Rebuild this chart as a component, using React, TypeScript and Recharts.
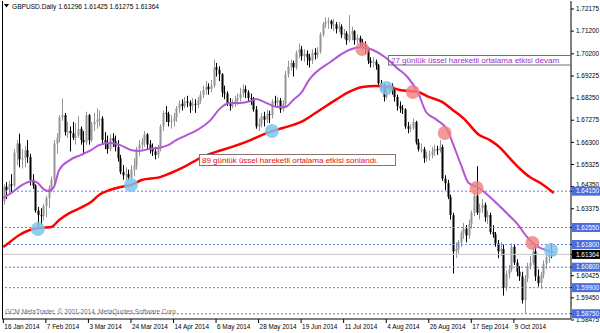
import React from 'react';
import { ComposedChart, Bar, Line, XAxis, YAxis, ReferenceLine, ReferenceDot } from 'recharts';

const opens = [
  1.6370,1.6435,1.6420,1.6445,1.6440,1.6585,1.6625,1.6555,1.6560,1.6595,
  1.6565,1.6465,1.6440,1.6330,1.6310,1.6305,1.6350,1.6385,1.6430,1.6465,
  1.6625,1.6650,1.6740,1.6750,1.6675,1.6680,1.6670,1.6650,1.6660,1.6690,
  1.6640,1.6630,1.6750,1.6640,1.6710,1.6720,1.6730,1.6735,1.6640,1.6630,
  1.6600,1.6650,1.6635,1.6610,1.6560,1.6500,1.6485,1.6490,1.6475,1.6510,
  1.6525,1.6600,1.6620,1.6635,1.6665,1.6620,1.6605,1.6590,1.6575,1.6600,
  1.6700,1.6760,1.6755,1.6720,1.6725,1.6740,1.6780,1.6800,1.6790,1.6810,
  1.6805,1.6790,1.6800,1.6795,1.6815,1.6840,1.6860,1.6875,1.6865,1.6880,
  1.6960,1.6950,1.6930,1.6850,1.6845,1.6800,1.6790,1.6800,1.6815,1.6825,
  1.6845,1.6865,1.6850,1.6825,1.6820,1.6775,1.6700,1.6710,1.6745,1.6730,
  1.6755,1.6750,1.6810,1.6805,1.6815,1.6775,1.6800,1.6930,1.6965,1.6980,
  1.6960,1.7025,1.7040,1.7010,1.7020,1.7005,1.6990,1.7025,1.7015,1.7030,
  1.7105,1.7150,1.7160,1.7165,1.7150,1.7150,1.7130,1.7140,1.7105,1.7110,
  1.7080,1.7105,1.7120,1.7080,1.7090,1.7070,1.7060,1.7040,1.6990,1.6980,
  1.6985,1.6970,1.6890,1.6880,1.6830,1.6860,1.6880,1.6860,1.6830,1.6790,
  1.6780,1.6775,1.6700,1.6690,1.6695,1.6720,1.6630,1.6600,1.6600,1.6560,
  1.6570,1.6575,1.6590,1.6600,1.6595,1.6610,1.6470,1.6450,1.6390,1.6310,
  1.6150,1.6160,1.6190,1.6230,1.6250,1.6220,1.6270,1.6320,1.6395,1.6320,
  1.6340,1.6355,1.6300,1.6310,1.6235,1.6225,1.6185,1.6150,1.6160,1.5990,
  1.6050,1.6070,1.6170,1.6100,1.6060,1.6040,1.5935,1.6030,1.6085,1.6100,
  1.6150,1.6040,1.6010,1.6045,1.6095,1.6125,1.6135,1.6130
];
const highs = [
  1.6445,1.6455,1.6460,1.6490,1.6600,1.6640,1.6668,1.6600,1.6615,1.6640,
  1.6580,1.6490,1.6445,1.6345,1.6340,1.6360,1.6395,1.6440,1.6480,1.6640,
  1.6670,1.6750,1.6823,1.6760,1.6720,1.6700,1.6720,1.6715,1.6745,1.6700,
  1.6680,1.6765,1.6755,1.6720,1.6760,1.6780,1.6770,1.6745,1.6675,1.6660,
  1.6665,1.6670,1.6660,1.6640,1.6575,1.6530,1.6520,1.6510,1.6530,1.6560,
  1.6610,1.6640,1.6650,1.6680,1.6670,1.6640,1.6625,1.6610,1.6620,1.6710,
  1.6770,1.6790,1.6765,1.6750,1.6760,1.6790,1.6815,1.6820,1.6830,1.6835,
  1.6815,1.6825,1.6820,1.6830,1.6855,1.6880,1.6900,1.6890,1.6905,1.6995,
  1.6980,1.6965,1.6935,1.6880,1.6855,1.6825,1.6820,1.6835,1.6845,1.6870,
  1.6885,1.6880,1.6860,1.6845,1.6830,1.6790,1.6735,1.6760,1.6765,1.6775,
  1.6770,1.6820,1.6835,1.6830,1.6825,1.6815,1.6945,1.6990,1.6995,1.6990,
  1.7035,1.7065,1.7055,1.7040,1.7035,1.7020,1.7040,1.7045,1.7050,1.7115,
  1.7160,1.7180,1.7180,1.7170,1.7175,1.7160,1.7160,1.7150,1.7130,1.7120,
  1.7191,1.7140,1.7125,1.7105,1.7100,1.7085,1.7075,1.7050,1.7005,1.7005,
  1.6995,1.6975,1.6905,1.6890,1.6875,1.6895,1.6890,1.6870,1.6840,1.6810,
  1.6795,1.6780,1.6720,1.6710,1.6735,1.6725,1.6645,1.6625,1.6610,1.6590,
  1.6595,1.6610,1.6620,1.6615,1.6640,1.6620,1.6485,1.6465,1.6400,1.6320,
  1.6190,1.6200,1.6240,1.6275,1.6265,1.6290,1.6330,1.6410,1.6525,1.6360,
  1.6380,1.6365,1.6330,1.6320,1.6265,1.6235,1.6200,1.6190,1.6180,1.6065,
  1.6090,1.6185,1.6180,1.6115,1.6085,1.6060,1.6045,1.6100,1.6130,1.6185,
  1.6182,1.6070,1.6060,1.6110,1.6140,1.6160,1.6185,1.6143
];
const lows = [
  1.6355,1.6380,1.6400,1.6410,1.6430,1.6530,1.6520,1.6515,1.6520,1.6540,
  1.6440,1.6425,1.6320,1.6253,1.6265,1.6285,1.6300,1.6340,1.6410,1.6440,
  1.6580,1.6630,1.6725,1.6660,1.6650,1.6590,1.6640,1.6620,1.6650,1.6620,
  1.6580,1.6620,1.6620,1.6630,1.6680,1.6690,1.6700,1.6620,1.6600,1.6580,
  1.6590,1.6610,1.6590,1.6545,1.6490,1.6465,1.6460,1.6462,1.6465,1.6480,
  1.6510,1.6570,1.6590,1.6610,1.6600,1.6580,1.6570,1.6555,1.6560,1.6590,
  1.6680,1.6720,1.6700,1.6690,1.6700,1.6720,1.6760,1.6770,1.6780,1.6785,
  1.6760,1.6770,1.6760,1.6780,1.6800,1.6825,1.6840,1.6840,1.6850,1.6870,
  1.6920,1.6900,1.6830,1.6820,1.6790,1.6770,1.6780,1.6785,1.6795,1.6810,
  1.6830,1.6825,1.6810,1.6795,1.6765,1.6690,1.6680,1.6695,1.6700,1.6715,
  1.6715,1.6735,1.6785,1.6780,1.6760,1.6765,1.6790,1.6915,1.6945,1.6920,
  1.6950,1.7000,1.6990,1.6985,1.6970,1.6960,1.6975,1.6995,1.7000,1.7020,
  1.7095,1.7135,1.7130,1.7130,1.7120,1.7110,1.7115,1.7090,1.7085,1.7060,
  1.7070,1.7080,1.7060,1.7065,1.7050,1.7040,1.7020,1.6975,1.6960,1.6960,
  1.6950,1.6880,1.6860,1.6810,1.6820,1.6840,1.6840,1.6810,1.6770,1.6760,
  1.6755,1.6690,1.6670,1.6675,1.6685,1.6620,1.6590,1.6585,1.6540,1.6545,
  1.6550,1.6560,1.6570,1.6575,1.6585,1.6460,1.6420,1.6380,1.6290,1.6052,
  1.6120,1.6140,1.6170,1.6205,1.6190,1.6205,1.6250,1.6305,1.6310,1.6290,
  1.6320,1.6280,1.6270,1.6225,1.6210,1.6170,1.6120,1.6130,1.5955,1.5975,
  1.6030,1.6060,1.6090,1.6040,1.6020,1.5920,1.5875,1.6015,1.6070,1.6090,
  1.6020,1.5995,1.5985,1.6030,1.6070,1.6100,1.6120,1.6128
];
const closes = [
  1.6435,1.6420,1.6445,1.6440,1.6585,1.6625,1.6555,1.6560,1.6595,1.6565,
  1.6465,1.6440,1.6330,1.6310,1.6305,1.6350,1.6385,1.6430,1.6465,1.6625,
  1.6650,1.6740,1.6750,1.6675,1.6680,1.6670,1.6650,1.6660,1.6690,1.6640,
  1.6630,1.6750,1.6640,1.6710,1.6720,1.6730,1.6735,1.6640,1.6630,1.6600,
  1.6650,1.6635,1.6610,1.6560,1.6500,1.6485,1.6490,1.6475,1.6510,1.6525,
  1.6600,1.6620,1.6635,1.6665,1.6620,1.6605,1.6590,1.6575,1.6600,1.6700,
  1.6760,1.6755,1.6720,1.6725,1.6740,1.6780,1.6800,1.6790,1.6810,1.6805,
  1.6790,1.6800,1.6795,1.6815,1.6840,1.6860,1.6875,1.6865,1.6880,1.6960,
  1.6950,1.6930,1.6850,1.6845,1.6800,1.6790,1.6800,1.6815,1.6825,1.6845,
  1.6865,1.6850,1.6825,1.6820,1.6775,1.6700,1.6710,1.6745,1.6730,1.6755,
  1.6750,1.6810,1.6805,1.6815,1.6775,1.6800,1.6930,1.6965,1.6980,1.6960,
  1.7025,1.7040,1.7010,1.7020,1.7005,1.6990,1.7025,1.7015,1.7030,1.7105,
  1.7150,1.7160,1.7165,1.7150,1.7150,1.7130,1.7140,1.7105,1.7110,1.7080,
  1.7105,1.7120,1.7080,1.7090,1.7070,1.7060,1.7040,1.6990,1.6980,1.6985,
  1.6970,1.6890,1.6880,1.6830,1.6860,1.6880,1.6860,1.6830,1.6790,1.6780,
  1.6775,1.6700,1.6690,1.6695,1.6720,1.6630,1.6600,1.6600,1.6560,1.6570,
  1.6575,1.6590,1.6600,1.6595,1.6610,1.6470,1.6450,1.6390,1.6310,1.6150,
  1.6160,1.6190,1.6230,1.6250,1.6220,1.6270,1.6320,1.6395,1.6320,1.6340,
  1.6355,1.6300,1.6310,1.6235,1.6225,1.6185,1.6150,1.6160,1.5990,1.6050,
  1.6070,1.6170,1.6100,1.6060,1.6040,1.5935,1.6030,1.6085,1.6100,1.6150,
  1.6040,1.6010,1.6045,1.6095,1.6125,1.6135,1.6130,1.61364
];

const ema27Idx = [0,3,7,11,13,15,17,19,21,25,29,33,36,40,44,48,51,55,58,62,65,69,73,78,81,85,89,93,95,99,103,106,109,112,115,123,130,135,139,144,148,152,156,159,163,167,169,172,175,179,183,187,190,193,197,200,204,207];
const ema27Val = [1.6385,1.6407,1.6442,1.6460,1.6451,1.6425,1.6416,1.6433,1.6508,1.6552,1.6574,1.6596,1.6618,1.6627,1.6618,1.6596,1.6592,1.6601,1.6605,1.6618,1.6640,1.6662,1.6685,1.6729,1.6773,1.6803,1.6803,1.6812,1.6821,1.6803,1.6786,1.6786,1.6817,1.6848,1.6905,1.6984,1.7037,1.7050,1.7037,1.7002,1.6958,1.6918,1.6848,1.6764,1.6729,1.6685,1.6627,1.6535,1.6451,1.6429,1.6389,1.6345,1.6310,1.6275,1.6213,1.6178,1.6156,1.6147];
const ema89Idx = [0,3,6,10,14,18,21,25,29,33,36,40,44,48,52,59,63,68,74,80,86,93,99,105,112,118,125,130,135,140,145,149,156,160,165,169,173,179,183,187,190,194,198,202,207];
const ema89Val = [1.6169,1.6196,1.6222,1.6244,1.6253,1.6257,1.6288,1.6319,1.6341,1.6367,1.6398,1.6420,1.6433,1.6442,1.6464,1.6477,1.6495,1.6522,1.6561,1.6588,1.6610,1.6640,1.6671,1.6693,1.6720,1.6764,1.6817,1.6852,1.6874,1.6878,1.6874,1.6861,1.6852,1.6830,1.6808,1.6773,1.6737,1.6662,1.6640,1.6605,1.6566,1.6517,1.6477,1.6451,1.6407];

const xTickIdx = [0,16,32,48,64,80,96,112,128,144,160,176,192];
const xTickLabels = ['16 Jan 2014','7 Feb 2014','3 Mar 2014','24 Mar 2014','14 Apr 2014','6 May 2014','28 May 2014','19 Jun 2014','11 Jul 2014','4 Aug 2014','26 Aug 2014','17 Sep 2014','9 Oct 2014'];
const yTickValues = [1.72175,1.712,1.702,1.69225,1.6825,1.67275,1.663,1.65325,1.6435,1.63375,1.60425,1.5945,1.58475];
const levelValues = [1.6415,1.6255,1.618,1.608,1.599,1.5875];
const lastPrice = 1.61364;
const blueTouchIdx = [13,48,101,144,206];
const blueTouchVal = [1.6248,1.6442,1.6680,1.6870,1.6156];
const redTouchIdx = [135,154,166,178,199];
const redTouchVal = [1.7041,1.6852,1.6671,1.6429,1.6187];
const titleText = 'GBPUSD.Daily  1.61296 1.61425 1.61275 1.61364';
const note27 = '27 günlük üssel hareketli ortalama etkisi devam';
const note89 = '89 günlük üssel hareketli ortalama etkisi sonlandı.';
const copyright = 'GCM MetaTrader, © 2001-2014, MetaQuotes Software Corp.';

const EMPTY_SLOTS = 6;
const N = closes.length;
const FONT = '"Liberation Sans", Arial, sans-serif';

const data: any[] = [];
for (let i = 0; i < N + EMPTY_SLOTS; i++) {
  const row: any = { i };
  if (i < N) {
    row.o = opens[i]; row.h = highs[i]; row.l = lows[i]; row.c = closes[i];
    row.range = [lows[i], highs[i]];
  }
  const a = ema27Idx.indexOf(i);
  if (a >= 0) row.ema27 = ema27Val[a];
  const b = ema89Idx.indexOf(i);
  if (b >= 0) row.ema89 = ema89Val[b];
  data.push(row);
}

const Candle = (props: any) => {
  const { x, y, width, height, payload } = props;
  if (!payload || payload.o == null || height == null) return null;
  const { o, h, l, c } = payload;
  const top = Math.min(y, y + height);
  const hh = Math.abs(height);
  const k = hh / (h - l);
  const cx = Math.round(x + width / 2) + 0.5;
  const bull = c >= o;
  const col = bull ? '#959595' : '#000000';
  const yo = top + (h - o) * k;
  const yc = top + (h - c) * k;
  const bt = Math.min(yo, yc);
  const bh = Math.max(1, Math.abs(yo - yc));
  return (
    <g>
      <line x1={cx} x2={cx} y1={top} y2={top + hh} stroke={col} strokeWidth={1} />
      <rect x={cx - 1} y={bt} width={2} height={bh} fill={col} />
    </g>
  );
};

const PriceTick = (props: any) => {
  const { x, y, payload } = props;
  const v = payload.value as number;
  const isLevel = levelValues.indexOf(v) >= 0;
  const isLast = v === lastPrice;
  if (isLevel || isLast) {
    return (
      <g>
        <rect x={x - 4} y={y - 4.5} width={28} height={9} fill={isLast ? '#000000' : '#4a6edb'} />
        <text x={x} y={y} dy="0.35em" fontSize={6.4} fontFamily={FONT} fill="#ffffff">{v.toFixed(5)}</text>
      </g>
    );
  }
  const shift = v === 1.6435 ? -2 : 0;
  return (
    <text x={x} y={y + shift} dy="0.35em" fontSize={6.4} fontFamily={FONT} fill="#000000">{v.toFixed(5)}</text>
  );
};

const DateTick = (props: any) => {
  const { x, y, payload } = props;
  const k = xTickIdx.indexOf(payload.value);
  if (k < 0) return null;
  return (
    <text x={x + 1} y={y + 4.5} fontSize={6.4} fontFamily={FONT} fill="#000000" textAnchor="start">{xTickLabels[k]}</text>
  );
};

export default function App() {
  const allTicks = [...yTickValues, ...levelValues, lastPrice];
  return (
    <div style={{ position: 'absolute', left: 0, top: 0, width: 600, height: 333, background: '#ffffff' }}>
      <ComposedChart
        width={600}
        height={333}
        data={data}
        margin={{ top: 1, right: 0, bottom: 0, left: 2 }}
        barCategoryGap={0}
      >
        <XAxis
          dataKey="i"
          type="category"
          ticks={xTickIdx}
          interval={0}
          height={14}
          tickSize={4}
          tickMargin={1}
          tick={<DateTick />}
          axisLine={{ stroke: '#000000' }}
          tickLine={{ stroke: '#000000' }}
        />
        <YAxis
          orientation="right"
          type="number"
          domain={[1.58519, 1.72527]}
          allowDataOverflow
          ticks={allTicks}
          interval={0}
          width={29}
          tickSize={3}
          tickMargin={2}
          tick={<PriceTick />}
          axisLine={{ stroke: '#000000' }}
          tickLine={{ stroke: '#000000' }}
        />
        {levelValues.map((v) => (
          <ReferenceLine key={'lv' + v} y={v} stroke="#5b7fe8" strokeDasharray="2 2" strokeWidth={1} />
        ))}
        <ReferenceLine y={lastPrice} stroke="#c8c8c8" strokeWidth={1} />
        <Bar dataKey="range" shape={<Candle />} isAnimationActive={false} />
        <Line dataKey="ema89" type="monotone" stroke="#ff0000" strokeWidth={2.5} dot={false} connectNulls isAnimationActive={false} />
        <Line dataKey="ema27" type="monotone" stroke="#b455d8" strokeWidth={2} dot={false} connectNulls isAnimationActive={false} />
        {blueTouchIdx.map((ix, k) => (
          <ReferenceDot key={'b' + ix} x={ix} y={blueTouchVal[k]} r={7} fill="#7cc4ec" fillOpacity={0.85} stroke="none" />
        ))}
        {redTouchIdx.map((ix, k) => (
          <ReferenceDot key={'r' + ix} x={ix} y={redTouchVal[k]} r={7} fill="#ef7f7f" fillOpacity={0.8} stroke="none" />
        ))}
      </ComposedChart>
      <svg width={600} height={333} style={{ position: 'absolute', left: 0, top: 0, pointerEvents: 'none' }}>
        <defs>
          <clipPath id="plotClip">
            <rect x={2} y={1} width={569} height={318} />
          </clipPath>
        </defs>
        <line x1={2.5} x2={2.5} y1={1} y2={319} stroke="#000000" strokeWidth={1} />
        <polygon points="4,4 9,4 6.5,7.5" fill="#000000" />
        <text x={12} y={9} fontSize={6.6} fontFamily={FONT} fill="#000000">{titleText}</text>
        <g clipPath="url(#plotClip)">
          <rect x={388.5} y={55.5} width={190} height={9.5} fill="none" stroke="#707070" strokeWidth={1} />
          <text x={391} y={63} fontSize={8} fontFamily={FONT} fill="#a030c8">{note27}</text>
          <rect x={199.5} y={154.5} width={196} height={11} fill="#ffffff" stroke="#8a7070" strokeWidth={1} />
          <text x={202} y={163} fontSize={8} fontFamily={FONT} fill="#e01010">{note89}</text>
          <text x={5} y={314} fontSize={6.4} fontFamily={FONT} fill="#707070">{copyright}</text>
        </g>
      </svg>
    </div>
  );
}
